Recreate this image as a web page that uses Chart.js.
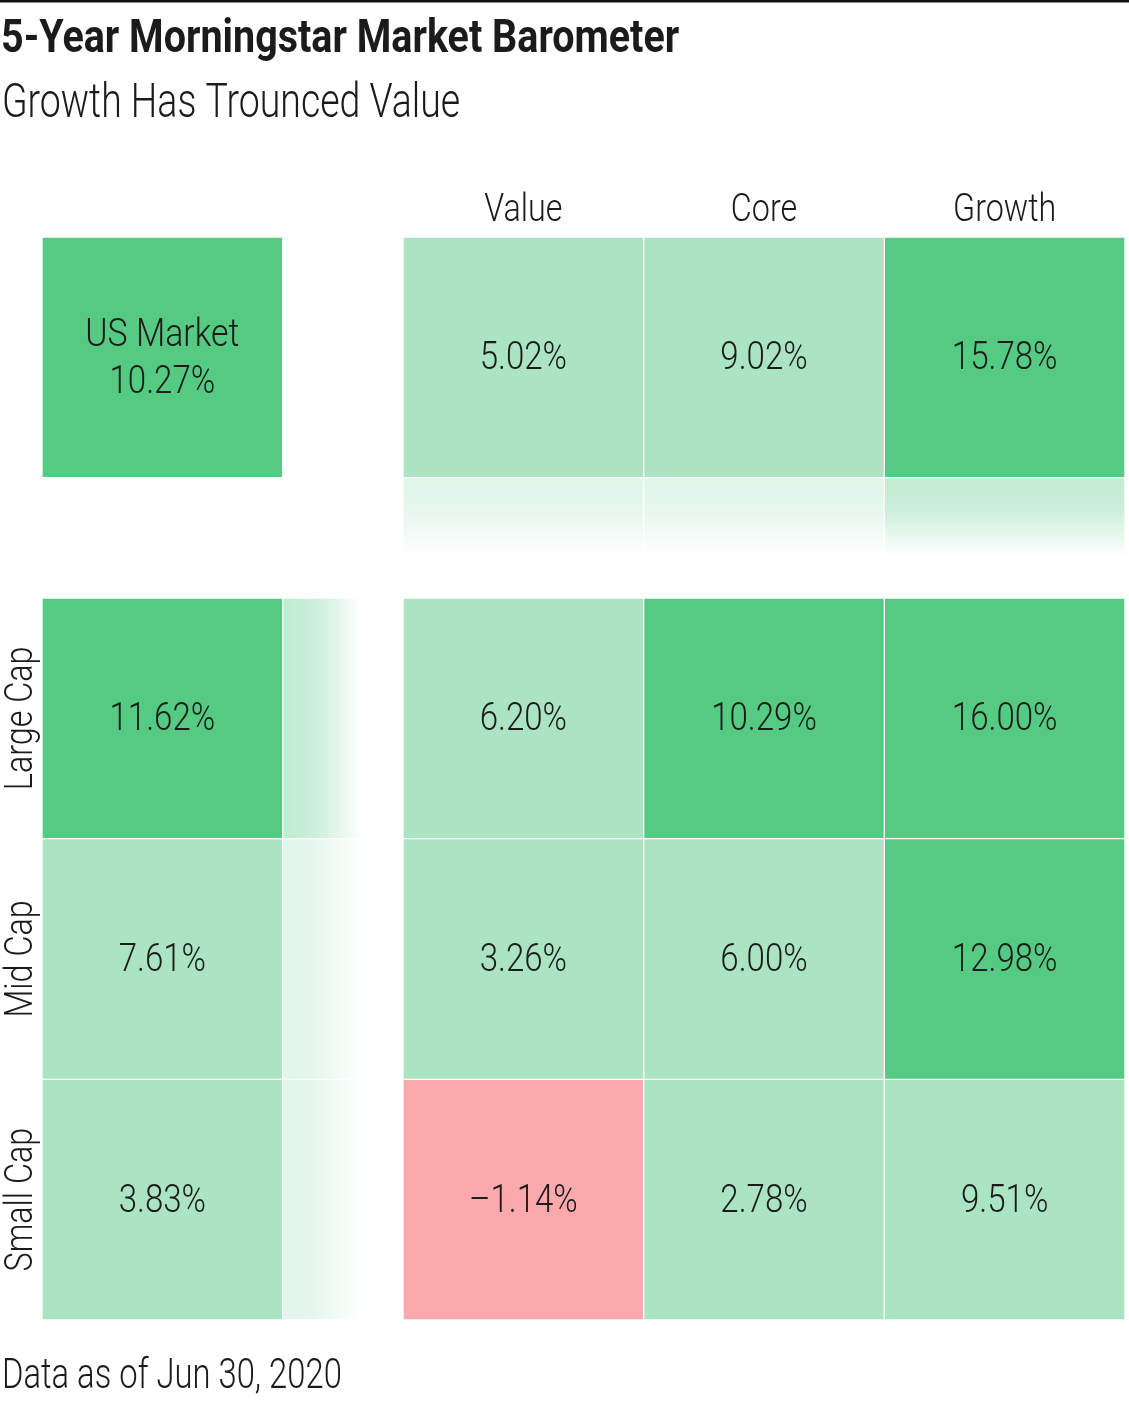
<!DOCTYPE html>
<html>
<head>
<meta charset="utf-8">
<title>5-Year Morningstar Market Barometer</title>
<script src="https://cdn.jsdelivr.net/npm/chart.js@4.4.1/dist/chart.umd.min.js"></script>
<style>
    html, body { margin: 0; padding: 0; background: #ffffff; }
    canvas { display: block; }
</style>
</head>
<body>
<canvas id="barometerChart" width="1129" height="1404"></canvas>
<script>
    // Chart data (5-year trailing returns, %)
    const styleLabels = ['Value', 'Core', 'Growth'];
    const capLabels = ['Large Cap', 'Mid Cap', 'Small Cap'];
    const usMarketReturn = 10.27;
    const styleReturns = [5.02, 9.02, 15.78];
    const capReturns = [11.62, 7.61, 3.83];
    const largeCapReturns = [6.20, 10.29, 16.00];
    const midCapReturns = [3.26, 6.00, 12.98];
    const smallCapReturns = [-1.14, 2.78, 9.51];

    const titleText = '5-Year Morningstar Market Barometer';
    const subtitleText = 'Growth Has Trounced Value';
    const footnoteText = 'Data as of Jun 30, 2020';

    // Grid layout in cell units (1 unit = one cell, gap = half a cell)
    const GRID_MAX = 4.5;
    const summaryCenter = 0.5;
    const gridCenters = [2, 3, 4];
    const FADE = 0.33;

    const DARK_GREEN = '#55CA82';
    const LIGHT_GREEN = '#ABE4C3';
    const PINK = '#FCA9AD';
    const INK = '#1b1b1b';
    const FONT = 'Roboto, "Liberation Sans", sans-serif';

    function cellColor(v) {
        if (v < 0) return PINK;
        return v >= 10 ? DARK_GREEN : LIGHT_GREEN;
    }

    function rgba(hex, a) {
        const n = parseInt(hex.slice(1), 16);
        return 'rgba(' + (n >> 16) + ',' + ((n >> 8) & 255) + ',' + (n & 255) + ',' + a + ')';
    }

    function formatReturn(v) {
        const s = Math.abs(v).toFixed(2) + '%';
        return v < 0 ? '\u2013' + s : s;
    }

    function span(center) {
        return [center - 0.5, center + 0.5];
    }

    // Cells: US market box, style row, then cap rows
    const cells = [];
    cells.push({ x: summaryCenter, y: span(summaryCenter), v: usMarketReturn, us: true });
    styleReturns.forEach(function (v, i) {
        cells.push({ x: gridCenters[i], y: span(summaryCenter), v: v });
    });
    [largeCapReturns, midCapReturns, smallCapReturns].forEach(function (row, r) {
        cells.push({ x: summaryCenter, y: span(gridCenters[r]), v: capReturns[r] });
        row.forEach(function (v, i) {
            cells.push({ x: gridCenters[i], y: span(gridCenters[r]), v: v });
        });
    });

    // Fading strips under the style row and beside the cap column
    const styleFade = styleReturns.map(function (v, i) {
        return { x: gridCenters[i], y: [1, 1 + FADE], v: v };
    });
    const capFade = capReturns.map(function (v, r) {
        return { y: gridCenters[r], x: [1, 1 + FADE], v: v };
    });

    // keep only whole-unit ticks so the bar ruler sees one cell per unit
    function wholeTicks(scale) {
        scale.ticks = scale.ticks.filter(function (t) { return Number.isInteger(t.value); });
    }

    function hiddenAxis(axis, position, reverse) {
        return {
            type: 'linear', axis: axis, position: position, display: false,
            min: 0, max: GRID_MAX, reverse: reverse, offset: false,
            grid: { offset: false },
            ticks: { stepSize: 1 },
            afterBuildTicks: wholeTicks
        };
    }

    function drawText(ctx, text, x, y, font, align, squeeze, rotate) {
        ctx.save();
        ctx.translate(x, y);
        if (rotate) ctx.rotate(-Math.PI / 2);
        ctx.scale(squeeze, 1);
        ctx.font = font;
        ctx.fillStyle = INK;
        ctx.textAlign = align;
        ctx.textBaseline = 'alphabetic';
        ctx.fillText(text, 0, 0);
        ctx.restore();
    }

    function fadeColor(c, vertical) {
        const chart = c.chart;
        if (!chart.chartArea || !c.raw) return 'rgba(0,0,0,0)';
        const s = vertical ? chart.scales.y : chart.scales.x2;
        const a = s.getPixelForValue(1);
        const b = s.getPixelForValue(1 + FADE);
        const g = vertical ? chart.ctx.createLinearGradient(0, a, 0, b) : chart.ctx.createLinearGradient(a, 0, b, 0);
        const col = cellColor(c.raw.v);
        g.addColorStop(0, rgba(col, 0.36));
        g.addColorStop(0.4, rgba(col, 0.3));
        g.addColorStop(1, rgba(col, 0));
        return g;
    }

    const textPlugin = {
        id: 'barometerText',
        beforeDraw: function (chart) {
            const ctx = chart.ctx;
            ctx.save();
            ctx.fillStyle = '#111111';
            ctx.fillRect(0, 0, chart.width, 2.5);
            ctx.restore();
        },
        afterDatasetsDraw: function (chart) {
            const ctx = chart.ctx;
            const xs = chart.scales.x;
            const ys = chart.scales.y;
            const light = '300 38px ' + FONT;

            drawText(ctx, titleText, 1, 52, 'bold 47px ' + FONT, 'left', 0.84);
            drawText(ctx, subtitleText, 2, 117, '300 48px ' + FONT, 'left', 0.78);
            drawText(ctx, footnoteText, 2, 1388, '300 42px ' + FONT, 'left', 0.78);

            styleLabels.forEach(function (label, i) {
                drawText(ctx, label, xs.getPixelForValue(gridCenters[i]), ys.getPixelForValue(0) - 16, light, 'center', 0.85);
            });
            capLabels.forEach(function (label, r) {
                drawText(ctx, label, xs.getPixelForValue(0) - 10, ys.getPixelForValue(gridCenters[r]), light, 'center', 0.85, true);
            });

            const meta = chart.getDatasetMeta(0);
            meta.data.forEach(function (bar, i) {
                const cell = cells[i];
                const c = bar.getCenterPoint();
                if (cell.us) {
                    drawText(ctx, 'US Market', c.x, c.y - 11, light, 'center', 0.89);
                    drawText(ctx, formatReturn(cell.v), c.x, c.y + 36, light, 'center', 0.87);
                } else {
                    drawText(ctx, formatReturn(cell.v), c.x, c.y + 12, light, 'center', 0.87);
                }
            });
        }
    };

    const ctx = document.getElementById('barometerChart').getContext('2d');
    const barometerChart = new Chart(ctx, {
        type: 'bar',
        data: {
            datasets: [{
                label: 'Returns',
                data: cells,
                grouped: false,
                backgroundColor: function (c) { return cellColor(c.raw.v); },
                borderColor: '#ffffff',
                borderWidth: 1,
                borderSkipped: false,
                barPercentage: 1,
                categoryPercentage: 1
            }, {
                label: 'Style fade',
                data: styleFade,
                grouped: false,
                barPercentage: 1,
                categoryPercentage: 1,
                borderColor: '#ffffff',
                borderWidth: 1,
                borderSkipped: false,
                backgroundColor: function (c) { return fadeColor(c, true); }
            }, {
                label: 'Cap fade',
                data: capFade,
                indexAxis: 'y',
                xAxisID: 'x2',
                yAxisID: 'y2',
                grouped: false,
                barPercentage: 1,
                categoryPercentage: 1,
                borderColor: '#ffffff',
                borderWidth: 1,
                borderSkipped: false,
                backgroundColor: function (c) { return fadeColor(c, false); }
            }]
        },
        options: {
            responsive: false,
            animation: false,
            layout: { padding: { top: 237, left: 42, right: 4, bottom: 84 } },
            scales: {
                x: hiddenAxis('x', 'bottom', false),
                y: hiddenAxis('y', 'left', true),
                x2: hiddenAxis('x', 'top', false),
                y2: hiddenAxis('y', 'right', true)
            },
            plugins: {
                legend: { display: false },
                title: { display: false },
                tooltip: { enabled: false }
            }
        },
        plugins: [textPlugin]
    });
</script>
</body>
</html>
